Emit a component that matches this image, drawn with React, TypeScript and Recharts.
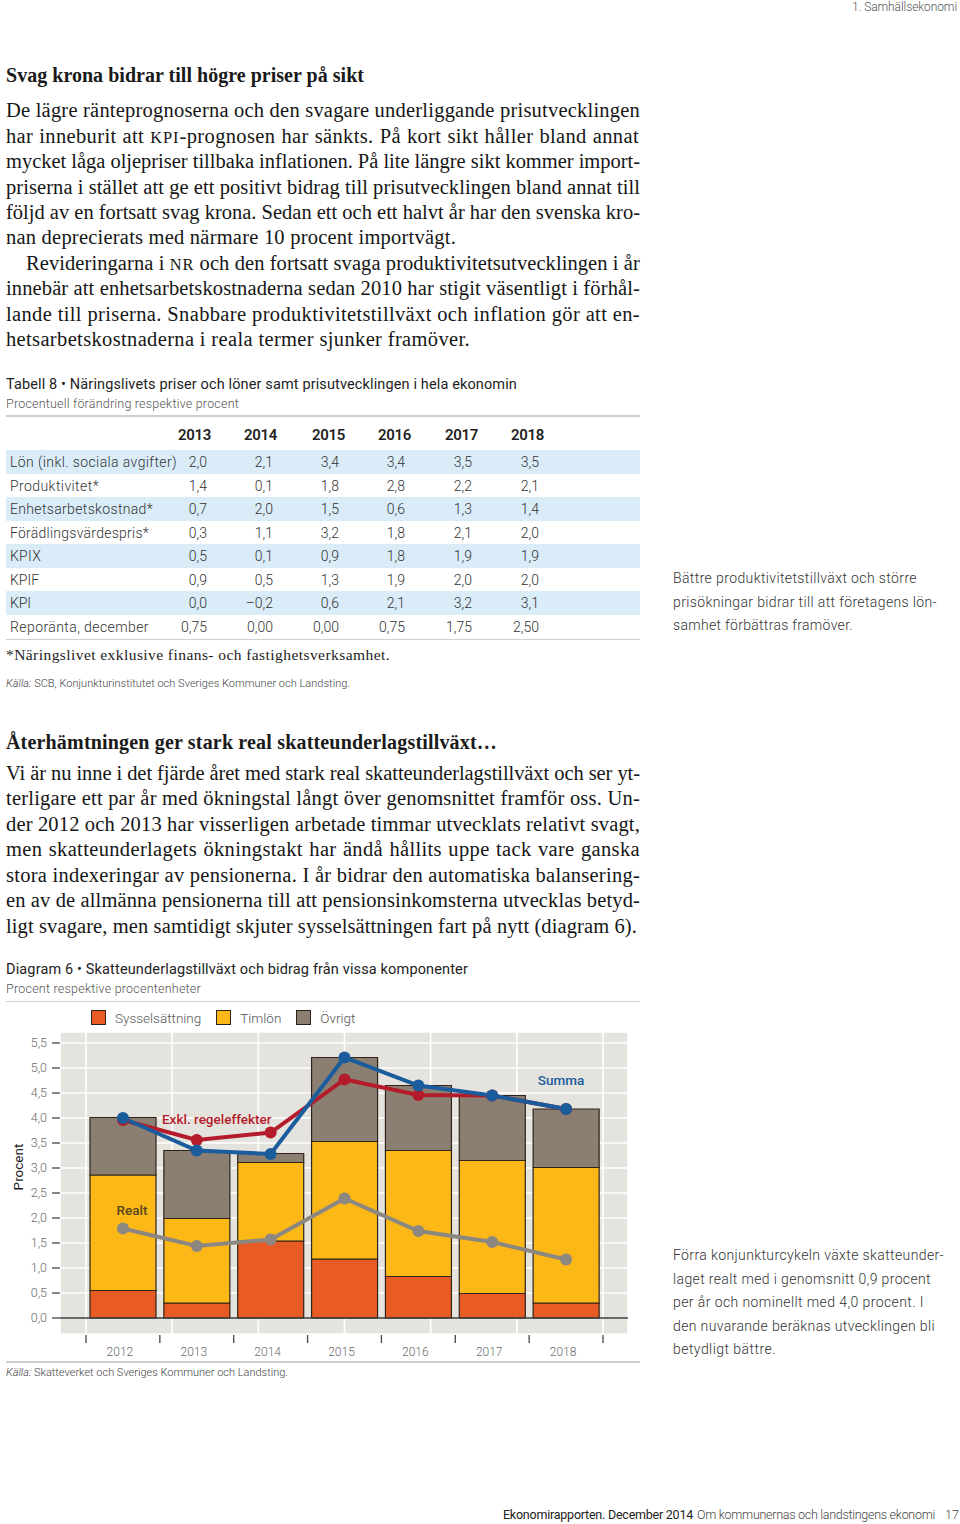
import React, { useLayoutEffect, useRef, useState } from 'react';
import {
  ComposedChart, Bar, Line, XAxis, YAxis, CartesianGrid, ReferenceLine, Legend, LabelList, Label,
} from 'recharts';

// ---------- Chart data (Diagram 6) ----------
const years = ['2012', '2013', '2014', '2015', '2016', '2017', '2018'];
const sysselsattning = [0.55, 0.30, 1.54, 1.18, 0.83, 0.49, 0.30];
const timlon = [2.31, 1.69, 1.57, 2.35, 2.52, 2.66, 2.71];
const ovrigt = [1.15, 1.36, 0.18, 1.68, 1.30, 1.30, 1.17];
const summa = [4.00, 3.35, 3.28, 5.21, 4.65, 4.45, 4.18];
const exklRegel = [3.96, 3.56, 3.71, 4.77, 4.46, 4.45, 4.18];
const realt = [1.79, 1.44, 1.57, 2.39, 1.74, 1.52, 1.17];
const yTicks = [0, 0.5, 1, 1.5, 2, 2.5, 3, 3.5, 4, 4.5, 5, 5.5];

// ---------- Table 8 data ----------
const tableYears = ['2013', '2014', '2015', '2016', '2017', '2018'];
const rowLabels = [
  'Lön (inkl. sociala avgifter)', 'Produktivitet*', 'Enhetsarbetskostnad*', 'Förädlingsvärdespris*',
  'KPIX', 'KPIF', 'KPI', 'Reporänta, december',
];
const lon = ['2,0', '2,1', '3,4', '3,4', '3,5', '3,5'];
const produktivitet = ['1,4', '0,1', '1,8', '2,8', '2,2', '2,1'];
const enhetsarbetskostnad = ['0,7', '2,0', '1,5', '0,6', '1,3', '1,4'];
const foradlingsvardespris = ['0,3', '1,1', '3,2', '1,8', '2,1', '2,0'];
const kpix = ['0,5', '0,1', '0,9', '1,8', '1,9', '1,9'];
const kpif = ['0,9', '0,5', '1,3', '1,9', '2,0', '2,0'];
const kpi = ['0,0', '–0,2', '0,6', '2,1', '3,2', '3,1'];
const reporanta = ['0,75', '0,00', '0,00', '0,75', '1,75', '2,50'];
const tableRows = [lon, produktivitet, enhetsarbetskostnad, foradlingsvardespris, kpix, kpif, kpi, reporanta];

const SERIF = '"Liberation Serif", "Times New Roman", serif';
const SANS = 'Roboto, "Liberation Sans", sans-serif';

const C_SYSS = '#e95b24';
const C_TIM = '#fbb817';
const C_OVR = '#8b7f72';
const C_SUM = '#1b5c9c';
const C_EXKL = '#b51c2b';
const C_REAL = '#8d8781';
const C_EDGE = '#2e2419';

type TLProps = {
  x: number; y: number; w?: number; size: number; family?: string; weight?: number;
  color?: string; justify?: boolean; lh?: number; italic?: boolean; children: React.ReactNode;
};

function TL({ x, y, w, size, family = SANS, weight = 400, color = '#333', justify = false, lh, italic, children }: TLProps) {
  const ref = useRef<HTMLSpanElement>(null);
  const done = useRef(false);
  const [sp, setSp] = useState({ ls: 0, ws: 0 });
  const h = lh ?? Math.round(size * 1.3);
  useLayoutEffect(() => {
    const el = ref.current;
    if (!el || !w || done.current) return;
    done.current = true;
    const nat = el.getBoundingClientRect().width;
    const text = el.textContent || '';
    const len = Math.max(text.length, 1);
    if (justify) {
      const n = (text.match(/ /g) || []).length;
      let ls = (w - nat) / len;
      ls = Math.max(-0.5, Math.min(0.35, ls));
      let ws = n ? (w - nat - ls * len) / n : 0;
      if (ws < -1.5) {
        ws = -1.5;
        ls = (w - nat - ws * n) / len;
      }
      setSp({ ls, ws });
    } else {
      setSp({ ls: (w - nat) / len, ws: 0 });
    }
  }, [w, justify]);
  return (
    <span
      ref={ref}
      style={{
        position: 'absolute', left: x, top: y - h / 2, whiteSpace: 'pre', fontSize: size,
        fontFamily: family, fontWeight: weight, color, lineHeight: `${h}px`,
        letterSpacing: sp.ls, wordSpacing: sp.ws, fontStyle: italic ? 'italic' : 'normal',
      }}
    >
      {children}
    </span>
  );
}

function Cell({ right, y, size, children, weight = 400 }: { right: number; y: number; size: number; children: React.ReactNode; weight?: number }) {
  return (
    <div style={{
      position: 'absolute', left: right - 60, width: 60, top: y - 10, height: 20, lineHeight: '20px',
      textAlign: 'right', fontFamily: SANS, fontSize: size, color: '#333', fontWeight: weight, whiteSpace: 'pre',
    }}>{children}</div>
  );
}

const SC = ({ children }: { children: React.ReactNode }) => (
  <span style={{ fontSize: '0.8em', letterSpacing: '0.06em' }}>{children}</span>
);

const Rule = ({ y }: { y: number }) => (
  <div style={{ position: 'absolute', left: 6, width: 634, top: y, height: 1.5, background: '#cfcfcf' }} />
);

const chartData = years.map((year, i) => ({
  year, syss: sysselsattning[i], timlon: timlon[i], ovrigt: ovrigt[i],
  summa: summa[i], exkl: exklRegel[i], realt: realt[i],
}));
const gridTicks = [...years.map((_, i) => i), years.length];

const fmt = (v: number) => v.toFixed(1).replace('.', ',');

const mkLabel = (text: string, idx: number, dx: number, dy: number, color: string) => (props: any) => {
  if (props.index !== idx) return null;
  return (
    <text x={props.x + dx} y={props.y + dy} textAnchor="middle" fill={color}
      fontFamily={SANS} fontSize={13.5} fontWeight={500}>{text}</text>
  );
};

const XTick = (props: any) => {
  const { x, y, payload, index } = props;
  const half = payload && typeof payload.offset === 'number' ? payload.offset : 0;
  return (
    <g>
      <line x1={x - half} x2={x - half} y1={y + 1} y2={y + 9} stroke="#444" strokeWidth={1.3} />
      {index === years.length - 1 && (
        <line x1={x + half} x2={x + half} y1={y + 1} y2={y + 9} stroke="#444" strokeWidth={1.3} />
      )}
      <text x={x - 3} y={y + 22} textAnchor="middle" fill="#6a6a6a" fontFamily={SANS} fontSize={12} fontWeight={300}>
        {payload.value}
      </text>
    </g>
  );
};

const barKeys = ['syss', 'timlon', 'ovrigt'];

const renderLegend = (props: any) => {
  const items = (props.payload || []).filter((p: any) => barKeys.includes(p.dataKey));
  return (
    <div style={{ height: 29, display: 'flex', alignItems: 'center', paddingLeft: 91, fontFamily: SANS, fontSize: 13.5, color: '#555', fontWeight: 300 }}>
      {items.map((it: any) => (
        <div key={it.value} style={{ display: 'flex', alignItems: 'center', marginRight: 15 }}>
          <span style={{ display: 'inline-block', width: 13, height: 13, background: it.color, border: `1.3px solid ${C_EDGE}`, marginRight: 9 }} />
          <span>{it.value}</span>
        </div>
      ))}
    </div>
  );
};

const ProcentLabel = (props: any) => {
  const vb = props.viewBox || { x: 0, y: 0, height: 0 };
  const cx = vb.x + 18;
  const cy = vb.y + vb.height / 2 - 16;
  return (
    <text x={cx} y={cy} transform={`rotate(-90, ${cx}, ${cy})`} textAnchor="middle" dominantBaseline="central"
      fill="#222" fontFamily={SANS} fontSize={13.5}>Procent</text>
  );
};

function Diagram6() {
  return (
    <ComposedChart width={640} height={359} data={chartData} margin={{ top: 0, right: 12, bottom: 0, left: 0 }}>
      <Legend verticalAlign="top" align="left" content={renderLegend} />
      <XAxis xAxisId="grid" type="number" domain={[0, years.length]} ticks={gridTicks} hide allowDataOverflow padding={{ left: 26, right: 25 }} />
      <XAxis dataKey="year" padding={{ left: 26, right: 25 }} axisLine={false} tickLine={false} tickSize={0} tickMargin={0} height={28} tick={<XTick />} interval={0} />
      <YAxis domain={[-0.32, 5.72]} ticks={yTicks} allowDataOverflow width={60} tickFormatter={fmt} axisLine={false}
        tickLine={{ stroke: '#444', strokeWidth: 1.3 }} tickSize={8} tickMargin={5}
        tick={{ fill: '#6a6a6a', fontSize: 12.5, fontFamily: SANS, fontWeight: 300 }}>
        <Label content={<ProcentLabel />} />
      </YAxis>
      <CartesianGrid xAxisId="grid" fill="#e5e3de" fillOpacity={1} stroke="#ffffff" strokeWidth={1.6} />
      <Bar dataKey="syss" name="Sysselsättning" stackId="a" fill={C_SYSS} stroke={C_EDGE} strokeWidth={1.2} barSize={66} isAnimationActive={false} />
      <Bar dataKey="timlon" name="Timlön" stackId="a" fill={C_TIM} stroke={C_EDGE} strokeWidth={1.2} barSize={66} isAnimationActive={false} />
      <Bar dataKey="ovrigt" name="Övrigt" stackId="a" fill={C_OVR} stroke={C_EDGE} strokeWidth={1.2} barSize={66} isAnimationActive={false} />
      <ReferenceLine y={0} stroke="#3a3a3a" strokeWidth={1.5} />
      <Line dataKey="realt" name="Realt" stroke={C_REAL} strokeWidth={4} dot={{ r: 6, fill: C_REAL, stroke: 'none' }} activeDot={false} legendType="none" isAnimationActive={false}>
        <LabelList dataKey="realt" content={mkLabel('Realt', 0, 9, -14, '#5a4520')} />
      </Line>
      <Line dataKey="exkl" name="Exkl. regeleffekter" stroke={C_EXKL} strokeWidth={4} dot={{ r: 6, fill: C_EXKL, stroke: 'none' }} activeDot={false} legendType="none" isAnimationActive={false}>
        <LabelList dataKey="exkl" content={mkLabel('Exkl. regeleffekter', 1, 20, -16, C_EXKL)} />
      </Line>
      <Line dataKey="summa" name="Summa" stroke={C_SUM} strokeWidth={4} dot={{ r: 6, fill: C_SUM, stroke: 'none' }} activeDot={false} legendType="none" isAnimationActive={false}>
        <LabelList dataKey="summa" content={mkLabel('Summa', 6, -5, -24, C_SUM)} />
      </Line>
    </ComposedChart>
  );
}

const P = (props: { y: number; x?: number; w?: number; children: React.ReactNode }) => (
  <TL x={props.x ?? 6} y={props.y} w={props.w ?? 634} justify size={20.5} family={SERIF} color="#161616">
    {props.children}
  </TL>
);

const valueRights = [207, 273, 339, 405, 472, 539];
const headerLefts = [178, 244, 312, 378, 445, 511];
const rowYs = [462, 486, 509, 533, 556, 580, 603, 627];
const labelWidths = [167, 89, 143, 139, 31, 29, 21, 139];

export default function App() {
  return (
    <div style={{ position: 'absolute', left: 0, top: 0, width: 960, height: 1524, background: '#fff', overflow: 'hidden' }}>
      <TL x={852} y={7} w={105} size={12} color="#555" weight={300}>1. Samhällsekonomi</TL>

      <TL x={6} y={75} w={358} size={20} family={SERIF} weight={700} color="#1a1a1a">Svag krona bidrar till högre priser på sikt</TL>

      <P y={110}>De lägre ränteprognoserna och den svagare underliggande prisutvecklingen</P>
      <P y={136}>har inneburit att <SC>KPI</SC>-prognosen har sänkts. På kort sikt håller bland annat</P>
      <P y={161}>mycket låga oljepriser tillbaka inflationen. På lite längre sikt kommer import-</P>
      <P y={187}>priserna i stället att ge ett positivt bidrag till prisutvecklingen bland annat till</P>
      <P y={212}>följd av en fortsatt svag krona. Sedan ett och ett halvt år har den svenska kro-</P>
      <P y={237} w={450}>nan deprecierats med närmare 10 procent importvägt.</P>
      <P y={263} x={26} w={614}>Revideringarna i <SC>NR</SC> och den fortsatt svaga produktivitetsutvecklingen i år</P>
      <P y={288}>innebär att enhetsarbetskostnaderna sedan 2010 har stigit väsentligt i förhål-</P>
      <P y={314}>lande till priserna. Snabbare produktivitetstillväxt och inflation gör att en-</P>
      <P y={339} w={464}>hetsarbetskostnaderna i reala termer sjunker framöver.</P>

      <TL x={6} y={384} w={511} size={14.5} color="#222">Tabell 8 • Näringslivets priser och löner samt prisutvecklingen i hela ekonomin</TL>
      <TL x={6} y={404} w={233} size={12.5} color="#555" weight={300}>Procentuell förändring respektive procent</TL>
      <Rule y={415} />

      {tableYears.map((yr, i) => (
        <TL key={yr} x={headerLefts[i]} y={435} w={33} size={15} weight={600} color="#222">{yr}</TL>
      ))}
      {rowLabels.map((lab, r) => (
        <React.Fragment key={lab}>
          {r % 2 === 0 && (
            <div style={{ position: 'absolute', left: 6, width: 634, top: rowYs[r] - 11.8, height: 23.6, background: '#daecf8' }} />
          )}
          <TL x={10} y={rowYs[r]} w={labelWidths[r]} size={14} color="#333" weight={300}>{lab}</TL>
          {tableRows[r].map((v, c) => (
            <Cell key={c} right={valueRights[c]} y={rowYs[r]} size={14} weight={300}>{v}</Cell>
          ))}
        </React.Fragment>
      ))}
      <Rule y={638.5} />
      <TL x={6} y={655} w={384} size={15.5} family={SERIF} color="#222">*Näringslivet exklusive finans- och fastighetsverksamhet.</TL>
      <TL x={6} y={684} w={344} size={11} color="#444" weight={300}><i>Källa:</i> SCB, Konjunkturinstitutet och Sveriges Kommuner och Landsting.</TL>

      <TL x={673} y={578} w={244} size={14} color="#333" weight={300}>Bättre produktivitetstillväxt och större</TL>
      <TL x={673} y={602} w={264} size={14} color="#333" weight={300}>prisökningar bidrar till att företagens lön-</TL>
      <TL x={673} y={625} w={180} size={14} color="#333" weight={300}>samhet förbättras framöver.</TL>

      <TL x={6} y={742} w={491} size={20} family={SERIF} weight={700} color="#1a1a1a">Återhämtningen ger stark real skatteunderlagstillväxt…</TL>
      <P y={773}>Vi är nu inne i det fjärde året med stark real skatteunderlagstillväxt och ser yt-</P>
      <P y={798}>terligare ett par år med ökningstal långt över genomsnittet framför oss. Un-</P>
      <P y={824}>der 2012 och 2013 har visserligen arbetade timmar utvecklats relativt svagt,</P>
      <P y={849}>men skatteunderlagets ökningstakt har ändå hållits uppe tack vare ganska</P>
      <P y={875}>stora indexeringar av pensionerna. I år bidrar den automatiska balansering-</P>
      <P y={900}>en av de allmänna pensionerna till att pensionsinkomsterna utvecklas betyd-</P>
      <P y={926} w={631}>ligt svagare, men samtidigt skjuter sysselsättningen fart på nytt (diagram 6).</P>

      <TL x={6} y={969} w={462} size={14.5} color="#222">Diagram 6 • Skatteunderlagstillväxt och bidrag från vissa komponenter</TL>
      <TL x={6} y={989} w={195} size={12.5} color="#555" weight={300}>Procent respektive procentenheter</TL>
      <Rule y={1000.5} />

      <div style={{ position: 'absolute', left: 0, top: 1003, width: 640, height: 359 }}>
        <Diagram6 />
      </div>
      <Rule y={1361} />
      <TL x={6} y={1373} w={282} size={11} color="#444" weight={300}><i>Källa:</i> Skatteverket och Sveriges Kommuner och Landsting.</TL>

      <TL x={673} y={1255} w={271} size={14} color="#333" weight={300}>Förra konjunkturcykeln växte skatteunder-</TL>
      <TL x={673} y={1279} w={258} size={14} color="#333" weight={300}>laget realt med i genomsnitt 0,9 procent</TL>
      <TL x={673} y={1302} w={251} size={14} color="#333" weight={300}>per år och nominellt med 4,0 procent. I</TL>
      <TL x={673} y={1326} w={262} size={14} color="#333" weight={300}>den nuvarande beräknas utvecklingen bli</TL>
      <TL x={673} y={1349} w={103} size={14} color="#333" weight={300}>betydligt bättre.</TL>

      <TL x={503} y={1515} w={190} size={12.5} weight={400} color="#222">Ekonomirapporten. December 2014</TL>
      <TL x={697} y={1515} w={238} size={12.5} weight={300} color="#444">Om kommunernas och landstingens ekonomi</TL>
      <TL x={945} y={1515} size={12.5} weight={300} color="#444">17</TL>
    </div>
  );
}
